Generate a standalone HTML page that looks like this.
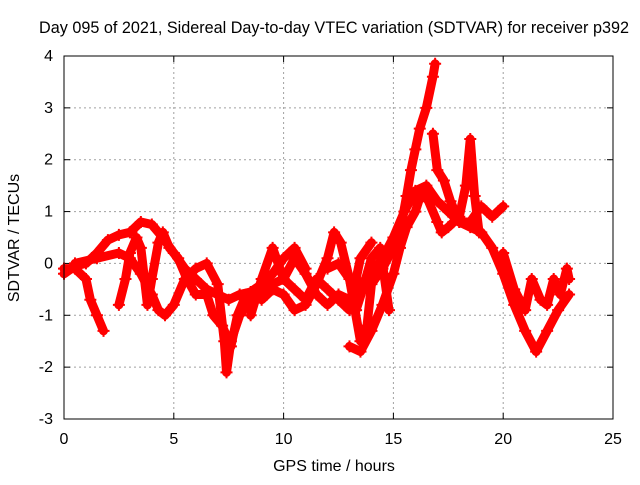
<!DOCTYPE html>
<html><head><meta charset="utf-8"><style>
body{margin:0;background:#fff}
svg text{font-family:"Liberation Sans",sans-serif;font-size:16px;fill:#000}
</style></head><body>
<svg id="chart" width="640" height="480" xmlns="http://www.w3.org/2000/svg">
<text x="334" y="33" text-anchor="middle" style="font-size:16.2px">Day 095 of 2021, Sidereal Day-to-day VTEC variation (SDTVAR) for receiver p392</text>
<g id="grid"></g>
<g id="axes"></g>
<g id="series"></g>
<rect x="64" y="56" width="549" height="363" fill="none" stroke="#000" stroke-width="1"/>
<text x="334" y="471" text-anchor="middle">GPS time / hours</text>
<text x="0" y="0" text-anchor="middle" transform="translate(19,238) rotate(-90)">SDTVAR / TECUs</text>
</svg>
<script>
const xTicks=[0,5,10,15,20,25];
const yTicks=[-3,-2,-1,0,1,2,3,4];
const arcA=[[0,-0.2],[0.5,-0.05],[1,0],[1.5,0.2],[2,0.45],[2.5,0.55],[3,0.6],[3.5,0.8],[4,0.75],[4.5,0.5],[5,0.2],[5.5,-0.1],[6,-0.3],[6.5,-0.5],[7,-0.6],[7.5,-0.7],[8,-0.6],[8.5,-0.55],[9,-0.4],[9.5,-0.2],[10,0.1],[10.5,0.3],[11,-0.1]];
const arcB=[[0,-0.1],[0.5,-0.1],[1,-0.3],[1.2,-0.7],[1.5,-1.0],[1.8,-1.3]];
const arcC=[[0.5,0],[1.5,0.1],[2.5,0.2],[3,0.1],[3.5,-0.2],[4,-0.6],[4.3,-0.9],[4.6,-1.0],[5,-0.8],[5.5,-0.3],[6,-0.1],[6.5,0],[7,-0.4],[7.3,-1.5],[7.4,-2.1],[7.6,-1.5],[8,-1.0],[8.5,-0.7],[9,-0.5],[9.5,-0.4],[10,-0.3],[10.5,0.1],[11,-0.2],[11.5,-0.6],[12,-0.8],[12.5,-0.6],[13,-0.7],[13.5,-0.4],[14,-0.2],[14.5,0.1],[15,0.5],[15.5,1.0],[16,1.4],[16.5,1.5],[17,1.2],[17.5,1.0],[18,0.8],[18.5,0.7],[19,0.6],[19.5,0.3],[20,-0.2],[20.5,-0.8],[21,-1.3],[21.5,-1.7],[22,-1.3],[22.5,-0.9],[23,-0.6]];
const arcD=[[2.5,-0.8],[2.8,-0.3],[3,0.2],[3.3,0.5],[3.5,0.3],[3.8,-0.8],[4,-0.3],[4.3,0.4],[4.5,0.6],[4.8,0.3],[5.2,0.1],[5.6,-0.3],[6,-0.6],[6.5,-0.6],[6.8,-1.0],[7.2,-1.2],[7.6,-1.6],[7.9,-1.0],[8.3,-0.6]];
const arcE=[[12,-0.1],[12.5,0],[13,-0.3],[13.5,-1.5],[13.8,-1.2],[14,-0.4],[14.5,-0.1],[15,0.3],[15.3,0.6],[15.6,1.3],[15.8,1.8],[16,2.2],[16.2,2.6],[16.5,3.0],[16.8,3.6],[16.9,3.85]];
const arcF=[[13,-1.6],[13.5,-1.7],[14,-1.3],[14.5,-0.8],[15,-0.2],[15.3,0.3],[15.6,0.7],[16,1.0],[16.3,1.4],[16.6,1.2],[17,0.8],[17.2,0.6],[17.5,0.7],[18,0.9],[18.3,1.5],[18.5,2.4],[18.7,1.3],[18.9,0.6]];
const arcG=[[16.8,2.5],[17,1.8],[17.3,1.6],[17.6,1.2],[18,0.8],[18.5,0.8],[19,1.1],[19.5,0.9],[20,1.1]];
const arcH=[[20,0.2],[20.5,-0.5],[21,-0.9],[21.3,-0.3],[21.7,-0.7],[22,-0.8],[22.3,-0.3],[22.6,-0.6],[22.9,-0.1],[23,-0.3]];
const arcI=[[9,-0.7],[9.5,-0.5],[10,-0.6],[10.5,-0.9],[11,-0.8],[11.5,-0.4],[12,0.1],[12.3,0.6],[12.6,0.4],[13,-0.3],[13.3,-0.9],[13.6,-0.5],[14,0.1],[14.4,0.3],[14.8,-0.9]];
const arcJ=[[8.5,-1.0],[9,-0.3],[9.5,0.3],[10,-0.3],[10.5,-0.5],[11,-0.7],[11.5,-0.3],[12,-0.5],[12.5,-0.7],[13,-0.9],[13.5,0.1],[14,0.4]];
const allArcs=[arcA,arcB,arcC,arcD,arcE,arcF,arcG,arcH,arcI,arcJ];
const X0=64,X1=613,Y0=419,Y1=56;
function sx(h){return X0+(h-0)/(25-0)*(X1-X0);}
function sy(v){return Y0-(v+3)/(4+3)*(Y0-Y1);}
const NS="http://www.w3.org/2000/svg";
function mk(t,a,p){const e=document.createElementNS(NS,t);for(const k in a)e.setAttribute(k,a[k]);p.appendChild(e);return e;}
const grid=document.getElementById('grid'),axes=document.getElementById('axes'),ser=document.getElementById('series');
xTicks.forEach(t=>{const x=sx(t);
 if(t>0&&t<25){const l=mk('line',{x1:x,y1:Y0,x2:x,y2:Y1,stroke:'#a0a0a0','stroke-dasharray':'2,3'},grid);}
 const tk=mk('line',{x1:x,y1:Y0,x2:x,y2:Y0-6,stroke:'#000'},axes);
 const tk2=mk('line',{x1:x,y1:Y1,x2:x,y2:Y1+6,stroke:'#000'},axes);
 const tx=mk('text',{x:x,y:444,'text-anchor':'middle'},axes);tx.textContent=t;});
yTicks.forEach(t=>{const y=sy(t);
 if(t>-3&&t<4){const l=mk('line',{x1:X0,y1:y,x2:X1,y2:y,stroke:'#a0a0a0','stroke-dasharray':'2,3'},grid);}
 const tk=mk('line',{x1:X0,y1:y,x2:X0+6,y2:y,stroke:'#000'},axes);
 const tk2=mk('line',{x1:X1,y1:y,x2:X1-6,y2:y,stroke:'#000'},axes);
 const tx=mk('text',{x:53,y:y+5,'text-anchor':'end'},axes);tx.textContent=t;});
allArcs.forEach(arc=>{
 const pts=arc.map(p=>sx(p[0])+','+sy(p[1])).join(' ');
 const pl=mk('polyline',{points:pts,fill:'none',stroke:'#ff0000','stroke-width':9,'stroke-linejoin':'round','stroke-linecap':'round'},ser);
 
 arc.forEach(p=>{const x=sx(p[0]),y=sy(p[1]);
  const m=mk('path',{d:`M${x-6},${y}H${x+6}M${x},${y-6}V${y+6}`,stroke:'#ff0000','stroke-width':2},ser);
  });
});
</script>
</body></html>
